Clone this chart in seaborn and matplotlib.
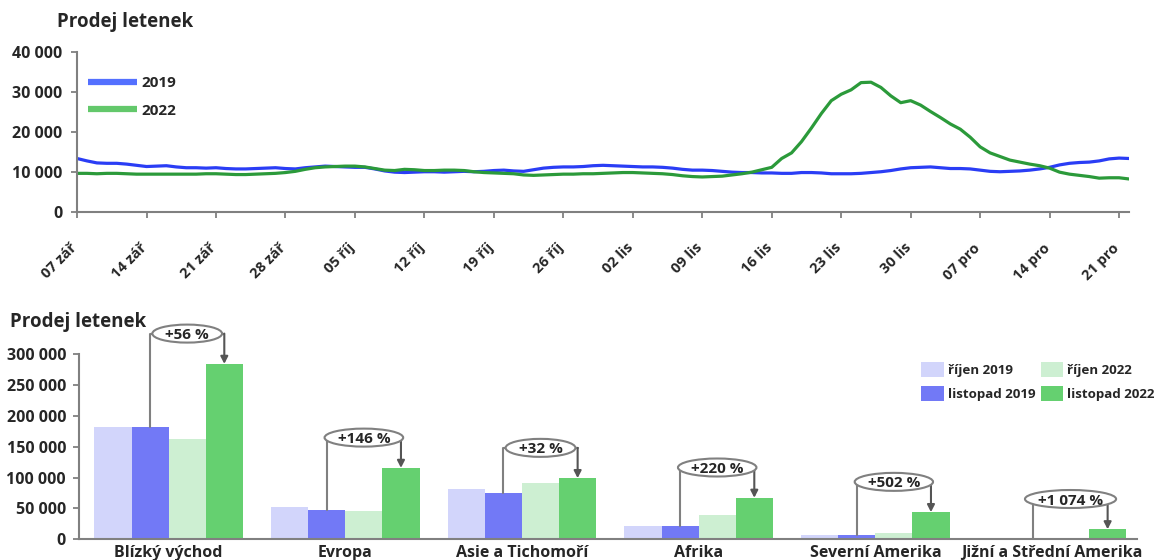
import numpy as np
import pandas as pd
import matplotlib
matplotlib.use("Agg")
import matplotlib.pyplot as plt
from matplotlib.lines import Line2D
from matplotlib.patches import Patch, Ellipse
import seaborn as sns

# Daily ticket sales, 7 Sep - 22 Dec
sales_2019 = [13400, 12800, 12300, 12200, 12200, 12000, 11700, 11400, 11500, 11600,
              11300, 11100, 11100, 11000, 11100, 10900, 10800, 10800, 10900, 11000,
              11100, 10900, 10800, 11100, 11300, 11500, 11400, 11300, 11200, 11200,
              10800, 10300, 10000, 9900, 10000, 10100, 10100, 10000, 10100, 10200,
              10100, 10200, 10400, 10500, 10300, 10200, 10600, 11000, 11200, 11300,
              11300, 11400, 11600, 11700, 11600, 11500, 11400, 11300, 11300, 11200,
              11000, 10700, 10500, 10500, 10400, 10200, 10000, 9900, 9900, 9800,
              9800, 9700, 9700, 9900, 9900, 9800, 9600, 9600, 9600, 9700,
              9900, 10100, 10400, 10800, 11100, 11200, 11300, 11100, 10900, 10900,
              10800, 10500, 10200, 10100, 10200, 10300, 10500, 10800, 11200, 11800,
              12200, 12400, 12500, 12800, 13300, 13500, 13400]
sales_2022 = [9700, 9700, 9600, 9700, 9700, 9600, 9500, 9500, 9500, 9500,
              9500, 9500, 9500, 9600, 9600, 9500, 9400, 9400, 9500, 9600,
              9700, 9900, 10200, 10700, 11100, 11300, 11400, 11500, 11500, 11300,
              10900, 10500, 10400, 10700, 10600, 10400, 10400, 10500, 10500, 10400,
              10100, 9900, 9800, 9700, 9600, 9300, 9200, 9300, 9400, 9500,
              9500, 9600, 9600, 9700, 9800, 9900, 9900, 9800, 9700, 9600,
              9400, 9100, 8900, 8800, 8900, 9000, 9300, 9600, 10000, 10600,
              11200, 13400, 14800, 17600, 21000, 24600, 27800, 29400, 30500, 32300,
              32400, 31100, 29000, 27300, 27800, 26700, 25100, 23600, 22000, 20700,
              18700, 16300, 14800, 13900, 13000, 12500, 12000, 11600, 11000, 10000,
              9500, 9200, 8900, 8500, 8600, 8600, 8300]
week_labels = ["07 zář", "14 zář", "21 zář", "28 zář", "05 říj", "12 říj", "19 říj",
               "26 říj", "02 lis", "09 lis", "16 lis", "23 lis", "30 lis", "07 pro",
               "14 pro", "21 pro"]
years = ["2019", "2022"]

# Monthly ticket sales by region
regions = ["Blízký východ", "Evropa", "Asie a Tichomoří", "Afrika",
           "Severní Amerika", "Jižní a Střední Amerika"]
oct_2019 = [181000, 52800, 81400, 21500, 7500, 1000]
nov_2019 = [182000, 47000, 75000, 21000, 7300, 1380]
oct_2022 = [162300, 46300, 91100, 39800, 9600, 1500]
nov_2022 = [284000, 115600, 99000, 67200, 43950, 16200]
periods = ["říjen 2019", "listopad 2019", "říjen 2022", "listopad 2022"]

y_label = "Prodej letenek"

sns.set_theme(style="white")
plt.rcParams["font.family"] = ["Open Sans", "DejaVu Sans"]
plt.rcParams["font.weight"] = "bold"
plt.rcParams["axes.labelweight"] = "bold"

GREY = "#808080"
line_colors = {"2019": "#2a3df5", "2022": "#2b9a3a"}
legend_line_colors = ["#5470ff", "#63c86b"]
bar_colors = ["#d2d5fb", "#7279f6", "#cdefd2", "#65d070"]


def thousands(v, _pos=None):
    return f"{v:,.0f}".replace(",", " ")


def style_axes(ax, ypad):
    sns.despine(ax=ax)
    for side in ("left", "bottom"):
        ax.spines[side].set_color(GREY)
        ax.spines[side].set_linewidth(1.5)
    ax.tick_params(axis="y", direction="out", length=4.5, width=1.3, color=GREY,
                   pad=ypad, labelsize=11.5, left=True)
    ax.yaxis.set_major_formatter(matplotlib.ticker.FuncFormatter(thousands))
    for t in ax.get_yticklabels():
        t.set_fontweight("bold")


fig = plt.figure(figsize=(11.62, 5.6), dpi=100)

# ---- daily line chart ----
ax1 = fig.add_axes([0.0663, 0.6209, 0.9053, 0.2868])
n = len(sales_2019)
days = np.arange(n)
df_line = pd.DataFrame({
    "den": np.concatenate([days, days]),
    "prodej": sales_2019 + sales_2022,
    "rok": [years[0]] * n + [years[1]] * n,
})
sns.lineplot(data=df_line, x="den", y="prodej", hue="rok", palette=line_colors,
             linewidth=2.3, legend=False, ax=ax1)
ax1.set_xlim(0, n - 1)
ax1.set_ylim(0, 40000)
ax1.set_yticks(np.arange(0, 40001, 10000))
ax1.set_xticks(np.arange(len(week_labels)) * 7)
ax1.set_xticklabels(week_labels, rotation=45, ha="right", va="top",
                    rotation_mode="anchor", fontsize=10.5, fontweight="bold")
ax1.set_xlabel("")
ax1.set_ylabel("")
style_axes(ax1, ypad=6)
ax1.tick_params(axis="x", direction="out", length=4.5, width=1.3, color=GREY,
                pad=16, bottom=True)
shift = matplotlib.transforms.ScaledTranslation(-7 / 100, 0, fig.dpi_scale_trans)
for t in ax1.get_xticklabels():
    t.set_transform(t.get_transform() + shift)

fig.text(57 / 1162, 1 - 22 / 560, y_label, fontsize=13.5, fontweight="bold",
         ha="left", va="center")

line_handles = [Line2D([0], [0], color=c, lw=4.5, solid_capstyle="butt")
                for c in legend_line_colors]
fig.legend(line_handles, years, loc="upper left",
           bbox_to_anchor=(88 / 1162, 1 - 76 / 560), frameon=False,
           prop={"size": 11, "weight": "bold"}, handlelength=3.2,
           handletextpad=0.3, labelspacing=0.9, borderpad=0, borderaxespad=0)

# ---- regional bar chart ----
ax2 = fig.add_axes([0.0676, 0.0370, 0.9107, 0.3309])
df_bar = pd.DataFrame({
    "region": regions * 4,
    "obdobi": sum([[p] * len(regions) for p in periods], []),
    "prodej": oct_2019 + nov_2019 + oct_2022 + nov_2022,
})
sns.barplot(data=df_bar, x="region", y="prodej", hue="obdobi", order=regions,
            hue_order=periods, palette=bar_colors, saturation=1, width=0.84,
            linewidth=0, legend=False, ax=ax2)
ax2.set_xlim(-0.51, 5.48)
ax2.set_ylim(0, 300000)
ax2.set_yticks(np.arange(0, 300001, 50000))
ax2.set_xlabel("")
ax2.set_ylabel("")
style_axes(ax2, ypad=4.5)
ax2.tick_params(axis="x", length=0, pad=4, labelsize=11.5)
for t in ax2.get_xticklabels():
    t.set_fontweight("bold")

fig.text(10 / 1162, 1 - 322 / 560, y_label, fontsize=13.5, fontweight="bold",
         ha="left", va="center")

# growth brackets: November 2019 -> November 2022
fig.canvas.draw()
renderer = fig.canvas.get_renderer()
ax_box = ax2.get_window_extent()
px_per_x = ax_box.width / (ax2.get_xlim()[1] - ax2.get_xlim()[0])
px_per_y = ax_box.height / (ax2.get_ylim()[1] - ax2.get_ylim()[0])
for i in range(len(regions)):
    b19 = ax2.containers[1][i]
    b22 = ax2.containers[3][i]
    x19 = b19.get_x() + b19.get_width() / 2
    x22 = b22.get_x() + b22.get_width() / 2
    h19, h22 = nov_2019[i], nov_2022[i]
    y_top = max(h19, h22) + 49000
    ax2.plot([x19, x19, x22], [h19, y_top, y_top], color=GREY, lw=1.5,
             clip_on=False, zorder=4, solid_joinstyle="round")
    ax2.annotate("", xy=(x22, h22), xytext=(x22, y_top),
                 arrowprops=dict(arrowstyle="-|>,head_length=0.35,head_width=0.18",
                                 color="#555555", lw=1.5, shrinkA=0, shrinkB=0),
                 annotation_clip=False, zorder=4)
    pct = round((h22 / h19 - 1) * 100)
    label = "+" + thousands(pct) + " %"
    xc = (x19 + x22) / 2
    txt = ax2.text(xc, y_top - 5.5 / px_per_y, label, ha="center", va="baseline",
                   fontsize=11, fontweight="bold", zorder=6, clip_on=False)
    tw = txt.get_window_extent(renderer).width
    ell = Ellipse((xc, y_top), (tw + 26) / px_per_x, 18 / px_per_y,
                  facecolor="white", edgecolor=GREY, lw=1.5, zorder=5,
                  clip_on=False)
    ax2.add_patch(ell)

bar_handles = [Patch(facecolor=c, edgecolor="none") for c in bar_colors]
fig.legend(bar_handles, periods, loc="upper left", ncol=2,
           bbox_to_anchor=(921 / 1162, 1 - 362 / 560), frameon=False,
           prop={"size": 9.6, "weight": "bold"}, handlelength=1.7,
           handleheight=1.4, handletextpad=0.3, columnspacing=0.4,
           labelspacing=0.62, borderpad=0, borderaxespad=0)

fig.savefig("out.png", dpi=100)
